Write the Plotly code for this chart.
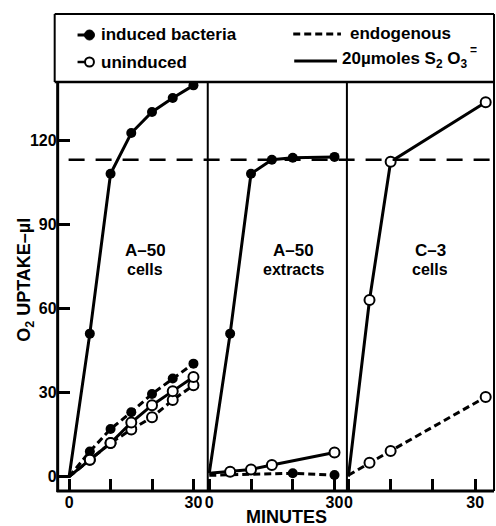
import plotly.graph_objects as go

W, H = 496, 526

# ---------------- data ----------------
# Panel 1: A-50 cells
t_a50_cells = [0, 5, 10, 15, 20, 25, 30]
a50_cells_ind_s2o3 = [0, 51, 108, 122.5, 130, 135, 139.5]
a50_cells_ind_endo = [0, 9, 17, 23, 29.5, 35, 40.3]
a50_cells_unind_s2o3 = [0, 6, 12, 19.3, 25.5, 30.5, 35.5]
a50_cells_unind_endo = [0, 6, 12, 16.8, 21.2, 27.3, 32.6]

# Panel 2: A-50 extracts
t_a50_ext_ind = [0, 5, 10, 15, 20, 30]
a50_ext_ind_s2o3 = [1.2, 51, 108, 113, 113.7, 114]
t_a50_ext_unind = [0, 5, 10, 15, 30]
a50_ext_unind_s2o3 = [1.2, 1.8, 2.6, 4.2, 8.6]
t_a50_ext_endo = [0, 20, 30]
a50_ext_ind_endo = [0.5, 1.2, 0.6]

# Panel 3: C-3 cells
t_c3 = [0, 5, 10, 32.5]
c3_unind_s2o3 = [0, 63, 112.3, 133.5]
c3_unind_endo = [0.5, 5, 9.2, 28.4]

theoretical_uptake = 113

y_tickvals = [0, 30, 60, 90, 120]
y_ticktext = ["0", "30", "60", "90", "120"]
x_tickvals = [0, 30]
x_ticktext = ["0", "30"]
x_minor_step = 10

panel_labels = [("A\u201350", "cells"), ("A\u201350", "extracts"), ("C\u20133", "cells")]

# ---------------- helpers ----------------
def px(x):
    return x / W


def py(y):
    return 1 - y / H


FONT = "Liberation Sans"
SOLID_W = 3
ENDO_DASH = "7px,4px"

fig = go.Figure()


def add_series(t, v, axis, filled, dashed):
    xa, ya = axis
    fig.add_trace(go.Scatter(
        x=t, y=v, mode="lines", xaxis=xa, yaxis=ya,
        line=dict(color="black", width=SOLID_W, dash=ENDO_DASH if dashed else "solid"),
        showlegend=False, hoverinfo="skip"))
    fig.add_trace(go.Scatter(
        x=t[1:], y=v[1:], mode="markers", xaxis=xa, yaxis=ya,
        marker=dict(symbol="circle", size=10,
                    color="black" if filled else "white",
                    line=dict(color="black", width=0 if filled else 2)),
        showlegend=False, hoverinfo="skip"))


p1 = ("x", "y")
p2 = ("x2", "y2")
p3 = ("x3", "y3")

add_series(t_a50_cells, a50_cells_ind_endo, p1, True, True)
add_series(t_a50_cells, a50_cells_unind_endo, p1, False, True)
add_series(t_a50_cells, a50_cells_unind_s2o3, p1, False, False)
add_series(t_a50_cells, a50_cells_ind_s2o3, p1, True, False)

add_series(t_a50_ext_endo, a50_ext_ind_endo, p2, True, True)
add_series(t_a50_ext_unind, a50_ext_unind_s2o3, p2, False, False)
add_series(t_a50_ext_ind, a50_ext_ind_s2o3, p2, True, False)

add_series(t_c3, c3_unind_endo, p3, False, True)
add_series(t_c3, c3_unind_s2o3, p3, False, False)

# ---------------- axes ----------------
ydom = [(H - 491) / H, (H - 82) / H]
yrange = [-5.1, 140.7]
tickfont = dict(family=FONT, size=16, color="black", weight="bold")

xcommon = dict(tickvals=x_tickvals, ticktext=x_ticktext, ticks="inside", ticklen=12,
               tickwidth=2.5, tickcolor="black", showgrid=False, zeroline=False,
               showline=False, tickfont=tickfont, fixedrange=True,
               minor=dict(tick0=0, dtick=x_minor_step, ticks="inside", ticklen=12,
                          tickwidth=2.5, tickcolor="black", showgrid=False))

layout = dict(
    width=W, height=H, margin=dict(l=0, r=0, t=0, b=0),
    paper_bgcolor="white", plot_bgcolor="white", showlegend=False,
    xaxis=dict(domain=[px(55), px(206)], range=[-2.76, 33.45], anchor="y", **xcommon),
    xaxis2=dict(domain=[px(206), px(346)], range=[-0.36, 32.97], anchor="y2", **xcommon),
    xaxis3=dict(domain=[px(346), px(494)], range=[-0.35, 34.47], anchor="y3", **xcommon),
    yaxis=dict(domain=ydom, range=yrange, anchor="x", tickvals=y_tickvals, ticktext=y_ticktext,
               ticks="inside", ticklen=12, tickwidth=2.5, tickcolor="black", showgrid=False,
               zeroline=False, showline=False, tickfont=tickfont, fixedrange=True),
    yaxis2=dict(domain=ydom, range=yrange, anchor="x2", showticklabels=False, ticks="",
                showgrid=False, zeroline=False, showline=False, fixedrange=True),
    yaxis3=dict(domain=ydom, range=yrange, anchor="x3", showticklabels=False, ticks="",
                showgrid=False, zeroline=False, showline=False, fixedrange=True),
)
fig.update_layout(**layout)

# ---------------- frame ----------------
shapes = []


def pline(x0, y0, x1, y1, width=2, dash="solid"):
    shapes.append(dict(type="line", xref="paper", yref="paper",
                       x0=px(x0), y0=py(y0), x1=px(x1), y1=py(y1),
                       line=dict(color="black", width=width, dash=dash)))


pline(52, 14, 494, 14, 2)
pline(52, 14, 52, 82, 2)
pline(494, 14, 494, 491, 2)
pline(52, 82, 494, 82, 2.5)
pline(55, 82, 55, 492, 3)
pline(54, 491, 494, 491, 3)
pline(206, 82, 206, 491, 2)
pline(346, 82, 346, 491, 2)

# theoretical uptake line
shapes.append(dict(type="line", xref="paper", yref="y", x0=px(66), x1=px(494),
                   y0=theoretical_uptake, y1=theoretical_uptake,
                   line=dict(color="black", width=2.5, dash="16px,11px")))

# legend samples
pline(75, 35, 86, 35, 3)
shapes.append(dict(type="circle", xref="paper", yref="paper",
                   x0=px(82), x1=px(92), y0=py(40), y1=py(30),
                   fillcolor="black", line=dict(color="black", width=1)))
pline(75, 62, 84, 62, 2.5)
shapes.append(dict(type="circle", xref="paper", yref="paper",
                   x0=px(82.5), x1=px(91.5), y0=py(66.5), y1=py(57.5),
                   fillcolor="white", line=dict(color="black", width=2)))
pline(292, 34, 340, 34, 3, ENDO_DASH)
pline(293, 61, 336, 61, 3)

fig.update_layout(shapes=shapes)

# ---------------- text ----------------
ann = []


def text(x, y, s, size=17, xanchor="center", bold=True, angle=0, height=None):
    a = dict(x=px(x), y=py(y), xref="paper", yref="paper", text=s, showarrow=False,
             xanchor=xanchor, yanchor="middle", textangle=angle,
             font=dict(family=FONT, size=size, color="black",
                       weight="bold" if bold else "normal"))
    if height is not None:
        a["height"] = height
    ann.append(a)


text(97, 35, "induced bacteria", 17, "left")
text(97, 62, "uninduced", 17, "left")
text(347, 33, "endogenous", 17, "left")
text(339, 60, "20\u00b5moles S<sub>2</sub> O<sub>3</sub>", 17, "left")
text(473, 50, "=", 12, height=10)

label_x = [143, 292, 430]
for (l1, l2), lx in zip(panel_labels, label_x):
    text(lx, 250, l1, 17, height=14)
    text(lx, 269.5, l2, 16, height=15)

text(285, 517, "MINUTES", 18)
text(22, 280, "O<sub>2</sub> UPTAKE\u2013\u00b5l", 18, angle=-90)

fig.update_layout(annotations=ann)

fig.write_html("out.html", config={"displayModeBar": False},
               post_script="document.body.style.margin='0px';")
